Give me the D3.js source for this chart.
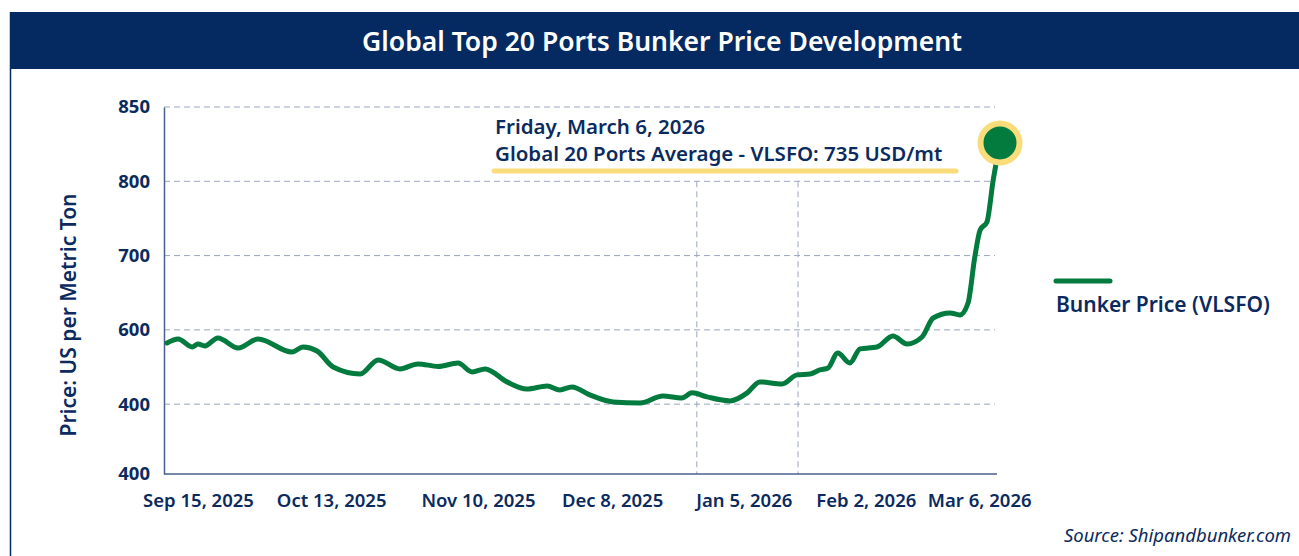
<!DOCTYPE html>
<html>
<head>
<meta charset="utf-8">
<script src="https://cdn.jsdelivr.net/npm/d3@7"></script>
<style>
  body { margin: 0; background: #fff; }
  svg text { font-family: "Noto Sans", "Open Sans", sans-serif; }
</style>
</head>
<body>
<svg id="chart" width="1299" height="556"></svg>
<script>
// data (day offset from Sep 15 2025, price)
var days = [0, 2.3, 5.2, 6.4, 7.8, 10.5, 14.7, 18.8, 25.8, 28.1, 31.0, 34.3, 39.9, 43.6, 48.1, 51.8,
            56.0, 60.1, 63.0, 65.7, 70.2, 74.3, 78.5, 81.1, 83.6, 87.3, 92.1, 97.7, 102.4, 106.3,
            108.4, 111.5, 116.3, 119.8, 122.4, 127.0, 130.1, 132.8, 134.8, 136.5, 138.5, 141.0,
            143.1, 146.6, 149.9, 152.8, 155.9, 158.2, 161.7, 163.7, 165.4, 166.8, 167.9, 169.3,
            170.6, 172];
var prices = [691.2, 693.9, 688.5, 690.5, 689.2, 694.6, 687.8, 693.9, 685.1, 688.5, 685.8, 675, 670.3,
              679.8, 673.7, 677.1, 675.4, 677.7, 671.7, 673.7, 665, 660.2, 662.3, 659.6, 661.6, 656.2,
              651.5, 650.8, 655.5, 654.2, 657.6, 654.9, 652.2, 657.6, 665, 663.6, 669.7, 670.3, 673,
              674.4, 684.5, 677.7, 687.2, 688.5, 695.9, 690.5, 695.2, 708, 711.4, 710.0, 718.1, 749.1,
              767.2, 772.6, 800.9, 825.8];

var yTicks = [850, 800, 750, 700, 650, 603];
var yTickLabels = ["850", "800", "700", "600", "400", "400"];
var xTicks = [6.4, 33.9, 64.2, 91.9, 119.1, 144.3, 167.7];
var xTickLabels = ["Sep 15, 2025", "Oct 13, 2025", "Nov 10, 2025", "Dec 8, 2025",
                   "Jan 5, 2026", "Feb 2, 2026", "Mar 6, 2026"];
var vGrid = [109.4, 130.3];

var navy = "#0b2a5e";
var green = "#037a3e";

var svg = d3.select('#chart');

// frame + header
svg.append('line')
  .attr('x1', 10.5).attr('x2', 10.5).attr('y1', 12).attr('y2', 556)
  .attr('stroke', '#052a61').attr('stroke-width', 1.5);
svg.append('rect')
  .attr('x', 10).attr('y', 12).attr('width', 1289).attr('height', 57)
  .attr('fill', '#052a61');
svg.append('text')
  .attr('x', 662).attr('y', 51)
  .attr('text-anchor', 'middle')
  .attr('fill', 'white')
  .attr('font-size', '26.5px')
  .attr('font-weight', 600)
  .text('Global Top 20 Ports Bunker Price Development');

var x = d3.scaleLinear().domain([0, 172]).range([167, 1000]);
var y = d3.scaleLinear().domain([603, 850]).range([474, 107]);

// horizontal grid
svg.append('g').selectAll('line')
  .data(yTicks.slice(0, 5))
  .join('line')
  .attr('x1', 164).attr('x2', 995)
  .attr('y1', d => y(d)).attr('y2', d => y(d))
  .attr('stroke', '#9aa5bf').attr('stroke-dasharray', '6,4');

// vertical grid
svg.append('g').selectAll('line')
  .data(vGrid)
  .join('line')
  .attr('x1', d => x(d)).attr('x2', d => x(d))
  .attr('y1', y(800)).attr('y2', y(603))
  .attr('stroke', '#9aa5bf').attr('stroke-dasharray', '6,4');

// y axis
var yAxis = svg.append('g')
  .attr('transform', 'translate(164,0)')
  .call(d3.axisLeft(y).tickValues(yTicks).tickSize(0).tickPadding(14)
    .tickFormat((d, i) => yTickLabels[i]));
yAxis.select('.domain').attr('stroke', '#4a5f8a').attr('stroke-width', 1.5);
yAxis.selectAll('text')
  .attr('fill', navy).attr('font-size', '18.5px').attr('font-weight', 700)
  .style('font-family', '"Noto Sans", sans-serif');

// x axis
var xAxis = svg.append('g')
  .attr('transform', 'translate(0,474)')
  .call(d3.axisBottom(x).tickValues(xTicks).tickSize(0).tickPadding(20)
    .tickFormat((d, i) => xTickLabels[i]));
xAxis.select('.domain').attr('d', 'M164,0H997').attr('stroke', '#4a5f8a').attr('stroke-width', 1.5);
xAxis.selectAll('text')
  .attr('fill', navy).attr('font-size', '18.5px').attr('font-weight', 600)
  .style('font-family', '"Noto Sans", sans-serif');

// y axis title
svg.append('text')
  .attr('transform', 'translate(76,315) rotate(-90)')
  .attr('text-anchor', 'middle')
  .attr('fill', navy)
  .attr('font-size', '21px')
  .attr('font-weight', 600)
  .text('Price: US per Metric Ton');

// line
var pts = days.map((d, i) => [d, prices[i]]);
var line = d3.line()
  .x(d => x(d[0]))
  .y(d => y(d[1]))
  .curve(d3.curveMonotoneX);

svg.append('path')
  .datum(pts)
  .attr('d', line)
  .attr('fill', 'none')
  .attr('stroke', green)
  .attr('stroke-width', 5)
  .attr('stroke-linejoin', 'round')
  .attr('stroke-linecap', 'round');

// end marker
var last = pts[pts.length - 1];
svg.append('circle')
  .attr('cx', x(last[0])).attr('cy', y(last[1])).attr('r', 19.5)
  .attr('fill', green).attr('stroke', '#fbdc7a').attr('stroke-width', 6);

// annotation
svg.append('text')
  .attr('x', 495).attr('y', 134)
  .attr('fill', navy).attr('font-size', '20.5px').attr('font-weight', 600)
  .text('Friday, March 6, 2026');
svg.append('text')
  .attr('x', 495).attr('y', 161)
  .attr('fill', navy).attr('font-size', '20.5px').attr('font-weight', 600)
  .text('Global 20 Ports Average - VLSFO: 735 USD/mt');
svg.append('line')
  .attr('x1', 494).attr('x2', 956).attr('y1', 171).attr('y2', 171)
  .attr('stroke', '#fbdc7a').attr('stroke-width', 5).attr('stroke-linecap', 'round');

// legend
svg.append('line')
  .attr('x1', 1056).attr('x2', 1110).attr('y1', 281).attr('y2', 281)
  .attr('stroke', green).attr('stroke-width', 5).attr('stroke-linecap', 'round');
svg.append('text')
  .attr('x', 1056).attr('y', 312)
  .attr('fill', navy).attr('font-size', '21px').attr('font-weight', 600)
  .text('Bunker Price (VLSFO)');

// source
svg.append('text')
  .attr('x', 1291).attr('y', 542)
  .attr('text-anchor', 'end')
  .attr('fill', navy).attr('font-size', '18.5px').attr('font-style', 'italic')
  .text('Source: Shipandbunker.com');
</script>
</body>
</html>
